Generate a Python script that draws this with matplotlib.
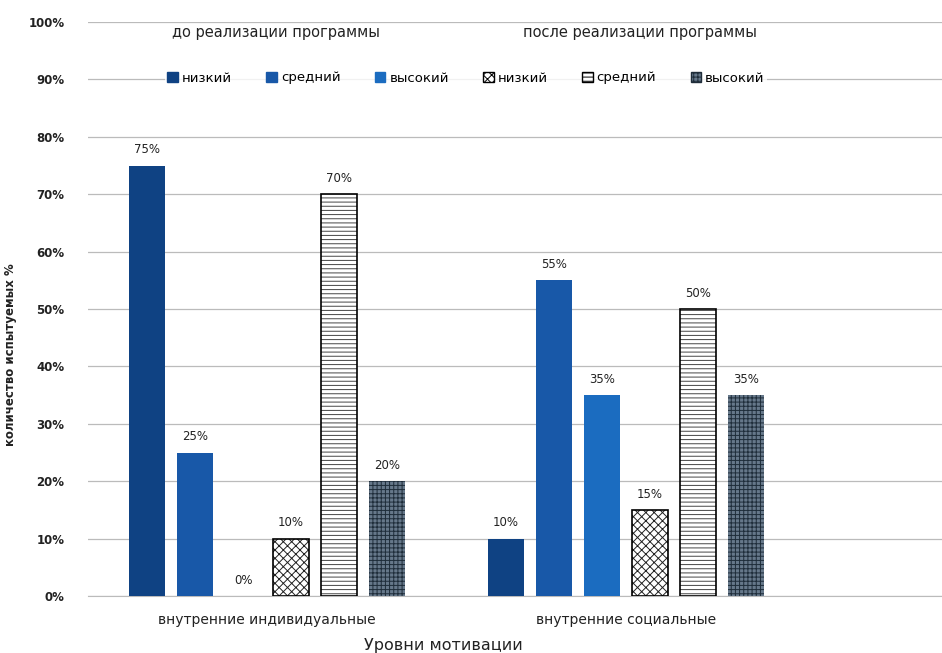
import matplotlib

matplotlib.use("Agg")
import matplotlib.pyplot as plt
from matplotlib.patches import Patch
import numpy as np

plt.rcParams["font.family"] = ["DejaVu Sans"]
plt.rcParams["hatch.linewidth"] = 0.7

categories = ["внутренние индивидуальные", "внутренние социальные"]
series_names = ["низкий", "средний", "высокий", "низкий", "средний", "высокий"]
values = [
    [75, 25, 0, 10, 70, 20],
    [10, 55, 35, 15, 50, 35],
]
header_before = "до реализации программы"
header_after = "после реализации программы"
y_ticks = [0, 10, 20, 30, 40, 50, 60, 70, 80, 90, 100]

# style per series: face, hatch, hatch colour, outline
styles = [
    ("#0f4283", None, "#0f4283", 0.0),
    ("#1858a8", None, "#1858a8", 0.0),
    ("#1b6cc0", None, "#1b6cc0", 0.0),
    ("white", "xxxx", "#222222", 1.2),
    ("white", "----", "#444444", 1.2),
    ("#66788a", "++++", "#1f2d3a", 0.0),
]

fig = plt.figure(figsize=(9.42, 6.53), dpi=100)
ax = fig.add_axes([88 / 942, 57 / 653, (942 - 88) / 942, 574 / 653])

x = np.arange(len(categories))
step = 0.1337
width = 0.1
for i, name in enumerate(series_names):
    face, hatch, hcol, outline = styles[i]
    vals = [row[i] for row in values]
    pos = x + (i - 2.5) * step
    ax.bar(pos, vals, width, color=face, hatch=hatch, edgecolor=hcol,
           linewidth=0, zorder=3)
    if outline:
        ax.bar(pos, vals, width, fill=False, edgecolor="black",
               linewidth=outline, zorder=3.5)
    for p, v in zip(pos, vals):
        ax.text(p, v + 1.6, f"{v}%", ha="center", va="bottom",
                fontsize=8.5, color="#222222", zorder=4)

ax.set_xlim(-0.4986, 1.88)
ax.set_ylim(0, 100)
ax.set_yticks(y_ticks)
ax.set_yticklabels([f"{t}%" for t in y_ticks], fontsize=8.5, fontweight="bold", color="#222222")
ax.set_xticks(x)
ax.set_xticklabels(categories, fontsize=10, color="#222222")
ax.tick_params(axis="x", length=0, pad=12)
ax.tick_params(axis="y", length=0, pad=17)
ax.grid(axis="y", color="#bbbbbb", linewidth=0.9, zorder=0)
for s in ["top", "right", "left"]:
    ax.spines[s].set_visible(False)
ax.spines["bottom"].set_color("#bbbbbb")

ax.set_xlabel("Уровни мотивации", fontsize=11.5, color="#222222")
ax.xaxis.set_label_coords((443 - 88) / 854, -42 / 574)
ax.set_ylabel("количество испытуемых %", fontsize=8.5, fontweight="bold", color="#222222")
ax.yaxis.set_label_coords((17 - 88) / 854, (596 - 355) / 574)

fig.text(276 / 942, 1 - 32 / 653, header_before, ha="center", va="center", fontsize=10.5, color="#222222")
fig.text(640 / 942, 1 - 32 / 653, header_after, ha="center", va="center", fontsize=10.5, color="#222222")

handles = []
for i, name in enumerate(series_names):
    face, hatch, hcol, outline = styles[i]
    handles.append(Patch(facecolor=face, hatch=hatch, edgecolor=hcol if not outline else "black", label=name))
leg = fig.legend(handles=handles, loc="center", bbox_to_anchor=(466 / 942, 1 - 78 / 653),
                 ncol=6, frameon=True, fontsize=9.5, handlelength=0.8, handleheight=0.8,
                 handletextpad=0.3, columnspacing=2.6, borderpad=0.2)
leg.get_frame().set_edgecolor("none")
leg.get_frame().set_facecolor("white")

fig.savefig("out.png", dpi=100)
